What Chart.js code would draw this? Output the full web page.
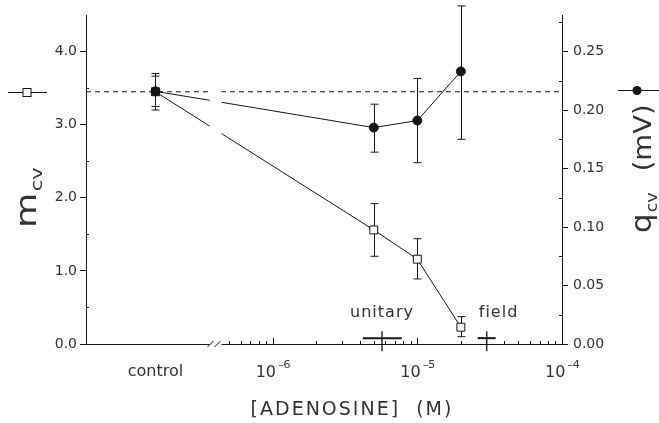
<!DOCTYPE html>
<html lang="en">
<head>
<meta charset="UTF-8" />
<title>Adenosine: m and q</title>
<style>
  html, body { margin: 0; padding: 0; background: #fff; }
  #wrap { width: 659px; height: 423px; }
</style>
</head>
<body>
<div id="wrap"><canvas id="chart"></canvas></div>
<script src="https://cdn.jsdelivr.net/npm/chart.js@4"></script>
<script>
// adenosine concentrations (M)
var concentrations = [5e-6, 1e-5, 2e-5];
var controlLabel = "control";

// m_cv (left axis), error bar ends
var mControl = 3.45, mControlHi = 3.70, mControlLo = 3.20;
var mValues = [1.56, 1.16, 0.23];
var mHi = [1.92, 1.44, 0.375];
var mLo = [1.20, 0.89, 0.10];

// q_cv in mV (right axis), error bar ends
var qControl = 0.216, qControlHi = 0.229, qControlLo = 0.203;
var qValues = [0.185, 0.191, 0.233];
var qHi = [0.205, 0.227, 0.289];
var qLo = [0.164, 0.155, 0.175];

// half-effect concentrations with their range
var ic50Labels = ["unitary", "field"];
var ic50Values = [5.7e-6, 3.02e-5];
var ic50Low = [4.2e-6, 2.61e-5];
var ic50High = [7.8e-6, 3.48e-5];
var ic50Level = 0.08;

// x tick labels: 10 to the power
var xTickValues = [1e-6, 1e-5, 1e-4];
var xTickBase = "10";
var xTickPowers = ["\u2013" + "6", "\u2013" + "5", "\u2013" + "4"];
var yTickStep = 1, y1TickStep = 0.05;

var LOG = function (c) { return Math.log10(c); };
var X_MIN = -7.29, X_MAX = -4.0;
var CONTROL_POS = -6.81;   // where the control group sits, left of the break
var BREAK_POS = -6.395;
var INK = "#151515";
var TEXT = "#333";
var FONT = "'DejaVu Sans', sans-serif";

function points(ctrl, vals) {
  var pts = [{ x: CONTROL_POS, y: ctrl }];
  for (var i = 0; i < vals.length; i++) {
    pts.push({ x: LOG(concentrations[i]), y: vals[i] });
  }
  return pts;
}

function errorBars(chart, scale, ctrlHi, ctrlLo, hi, lo) {
  var ctx = chart.ctx, xs = chart.scales.x;
  var xv = [CONTROL_POS].concat(concentrations.map(LOG));
  var his = [ctrlHi].concat(hi), los = [ctrlLo].concat(lo);
  ctx.save();
  ctx.strokeStyle = INK;
  ctx.lineWidth = 1;
  for (var i = 0; i < xv.length; i++) {
    var px = Math.round(xs.getPixelForValue(xv[i])) + 0.5;
    var a = scale.getPixelForValue(his[i]), b = scale.getPixelForValue(los[i]);
    ctx.beginPath();
    ctx.moveTo(px, a); ctx.lineTo(px, b);
    ctx.moveTo(px - 4, a); ctx.lineTo(px + 4, a);
    ctx.moveTo(px - 4, b); ctx.lineTo(px + 4, b);
    ctx.stroke();
  }
  ctx.restore();
}

var extras = {
  id: "extras",
  beforeDatasetsDraw: function (chart) {
    errorBars(chart, chart.scales.y, mControlHi, mControlLo, mHi, mLo);
    errorBars(chart, chart.scales.y1, qControlHi, qControlLo, qHi, qLo);
  },
  afterDatasetsDraw: function (chart) {
    var ctx = chart.ctx, xs = chart.scales.x, ys = chart.scales.y, y1 = chart.scales.y1;
    var area = chart.chartArea;
    var axisY = area.bottom;
    ctx.save();

    // axis break
    var bx = xs.getPixelForValue(BREAK_POS);
    ctx.fillStyle = "#fff";
    ctx.fillRect(bx - 6, area.top, 12, axisY - area.top + 2);
    ctx.strokeStyle = INK;
    ctx.lineWidth = 1;
    ctx.beginPath();
    ctx.moveTo(bx - 8, axisY + 3); ctx.lineTo(bx - 2, axisY - 3);
    ctx.moveTo(bx - 1, axisY + 3); ctx.lineTo(bx + 5, axisY - 3);
    ctx.stroke();

    // log minor ticks on x
    ctx.beginPath();
    for (var d = -7; d < -4; d++) {
      for (var k = 1; k <= 9; k++) {
        var v = d + Math.log10(k);
        if (v < BREAK_POS + 0.03 || v > X_MAX) continue;
        var px = Math.round(xs.getPixelForValue(v)) + 0.5;
        ctx.moveTo(px, axisY);
        ctx.lineTo(px, axisY - (k === 1 ? 6 : 3));
      }
    }
    // minor ticks on y axes
    for (var m = 0.5; m < 4.5; m += 1) {
      var py = Math.round(ys.getPixelForValue(m)) + 0.5;
      ctx.moveTo(area.left, py); ctx.lineTo(area.left + 3, py);
    }
    for (var q = 0.025; q < 0.28; q += 0.05) {
      var qy = Math.round(y1.getPixelForValue(q)) + 0.5;
      ctx.moveTo(area.right, qy); ctx.lineTo(area.right - 3, qy);
    }
    ctx.stroke();

    // power-of-ten tick labels
    ctx.fillStyle = TEXT;
    ctx.textAlign = "left";
    ctx.textBaseline = "alphabetic";
    for (var t = 0; t < xTickValues.length; t++) {
      var tx = xs.getPixelForValue(LOG(xTickValues[t]));
      ctx.font = "16px " + FONT;
      ctx.fillText(xTickBase, tx - 17, axisY + 33);
      var bw = ctx.measureText(xTickBase).width;
      ctx.font = "11px " + FONT;
      ctx.fillText(xTickPowers[t], tx - 17 + bw + 2, axisY + 24);
    }

    // half-effect markers
    ctx.font = "16px " + FONT;
    ctx.letterSpacing = "1px";
    ctx.textBaseline = "middle";
    for (var i = 0; i < ic50Values.length; i++) {
      var cx = xs.getPixelForValue(LOG(ic50Values[i]));
      var cy = ys.getPixelForValue(ic50Level);
      var l = xs.getPixelForValue(LOG(ic50Low[i]));
      var r = xs.getPixelForValue(LOG(ic50High[i]));
      ctx.lineWidth = 2;
      ctx.beginPath();
      ctx.moveTo(l, cy); ctx.lineTo(r, cy);
      ctx.stroke();
      ctx.lineWidth = 1.3;
      ctx.beginPath();
      ctx.moveTo(cx, cy - 7); ctx.lineTo(cx, cy + 13);
      ctx.stroke();
      ctx.textAlign = i === 0 ? "center" : "left";
      ctx.fillText(ic50Labels[i], i === 0 ? cx : cx - 8, cy - 25);
    }
    ctx.restore();
  },
  afterDraw: function (chart) {
    var ctx = chart.ctx, ys = chart.scales.y, y1 = chart.scales.y1;
    ctx.save();
    ctx.strokeStyle = INK;
    ctx.fillStyle = INK;
    ctx.lineWidth = 1;

    // side keys: open square for m, filled circle for q
    var ly = Math.round(ys.getPixelForValue(mControl)) + 0.5;
    ctx.beginPath(); ctx.moveTo(8, ly); ctx.lineTo(47, ly); ctx.stroke();
    ctx.fillStyle = "#fff";
    ctx.fillRect(23, ly - 4, 8, 8);
    ctx.strokeRect(23, ly - 4, 8, 8);
    var ry = Math.round(y1.getPixelForValue(qControl)) - 0.5;
    ctx.beginPath(); ctx.moveTo(618, ry); ctx.lineTo(659, ry); ctx.stroke();
    ctx.fillStyle = INK;
    ctx.beginPath(); ctx.arc(637, ry, 4.5, 0, Math.PI * 2); ctx.fill();

    // axis titles
    ctx.fillStyle = TEXT;
    ctx.textBaseline = "alphabetic";
    ctx.textAlign = "left";

    ctx.save();
    ctx.translate(36, 228);
    ctx.rotate(-Math.PI / 2);
    ctx.scale(1.3, 1);
    ctx.font = "28px " + FONT;
    ctx.fillText("m", 0, 0);
    var mw = ctx.measureText("m").width;
    ctx.font = "16px " + FONT;
    ctx.fillText("cv", mw + 1, 6);
    ctx.restore();

    ctx.save();
    ctx.translate(651, 233);
    ctx.rotate(-Math.PI / 2);
    ctx.scale(1.1, 1);
    ctx.font = "28px " + FONT;
    ctx.fillText("q", 0, 0);
    var qw = ctx.measureText("q").width;
    ctx.font = "16px " + FONT;
    ctx.fillText("cv", qw + 1, 6);
    var cw = ctx.measureText("cv").width;
    ctx.font = "25px " + FONT;
    ctx.fillText("(mV)", qw + cw + 20, 0);
    ctx.restore();

    ctx.font = "19px " + FONT;
    ctx.letterSpacing = "2px";
    ctx.textAlign = "center";
    ctx.fillText("[ADENOSINE]  (M)", 352, 415);
    ctx.restore();
  }
};

var ctx = document.getElementById("chart").getContext("2d");
var chart = new Chart(ctx, {
  type: "scatter",
  data: {
    datasets: [
      {
        label: "q",
        yAxisID: "y1",
        data: points(qControl, qValues),
        showLine: true,
        borderColor: INK,
        borderWidth: 1,
        pointStyle: "circle",
        pointRadius: 4.5,
        pointBackgroundColor: INK,
        pointBorderColor: INK,
        clip: false
      },
      {
        label: "m",
        yAxisID: "y",
        data: points(mControl, mValues),
        showLine: true,
        borderColor: INK,
        borderWidth: 1,
        pointStyle: "rect",
        pointRadius: 5.6,
        pointBorderWidth: 1,
        pointBackgroundColor: [INK, "#fff", "#fff", "#fff"],
        pointBorderColor: INK,
        clip: false
      },
      {
        label: "control level",
        yAxisID: "y",
        data: [{ x: X_MIN, y: mControl }, { x: X_MAX, y: mControl }],
        showLine: true,
        borderColor: INK,
        borderWidth: 1,
        borderDash: [5, 4],
        pointRadius: 0
      }
    ]
  },
  options: {
    responsive: true,
    maintainAspectRatio: false,
    animation: false,
    layout: { padding: { top: 15, left: 0, right: 0, bottom: 0 } },
    plugins: { legend: { display: false }, tooltip: { enabled: false } },
    scales: {
      x: {
        type: "linear",
        min: X_MIN,
        max: X_MAX,
        afterBuildTicks: function (scale) {
          scale.ticks = [CONTROL_POS].concat(xTickValues.map(LOG)).map(function (v) { return { value: v }; });
        },
        afterFit: function (scale) { scale.height = 79; },
        grid: { display: false, drawTicks: false },
        border: { color: INK, width: 1 },
        ticks: {
          autoSkip: false,
          maxRotation: 0,
          padding: 18,
          color: TEXT,
          font: { family: FONT, size: 16 },
          callback: function (value, index) {
            return index === 0 ? controlLabel : "";
          }
        }
      },
      y: {
        position: "left",
        min: 0,
        max: 4.5,
        afterFit: function (scale) { scale.width = 86; },
        grid: { drawOnChartArea: false, tickLength: 6, color: INK },
        border: { color: INK, width: 1 },
        ticks: {
          stepSize: yTickStep,
          includeBounds: false,
          padding: 3,
          color: TEXT,
          font: { family: FONT, size: 14 },
          callback: function (v) { return v.toFixed(1); }
        }
      },
      y1: {
        position: "right",
        min: 0,
        max: 0.28125,
        afterFit: function (scale) { scale.width = 97; },
        grid: { drawOnChartArea: false, tickLength: 6, color: INK },
        border: { color: INK, width: 1 },
        ticks: {
          stepSize: y1TickStep,
          includeBounds: false,
          padding: 5,
          color: TEXT,
          font: { family: FONT, size: 14 },
          callback: function (v) { return v.toFixed(2); }
        }
      }
    }
  },
  plugins: [extras]
});
</script>
</body>
</html>
